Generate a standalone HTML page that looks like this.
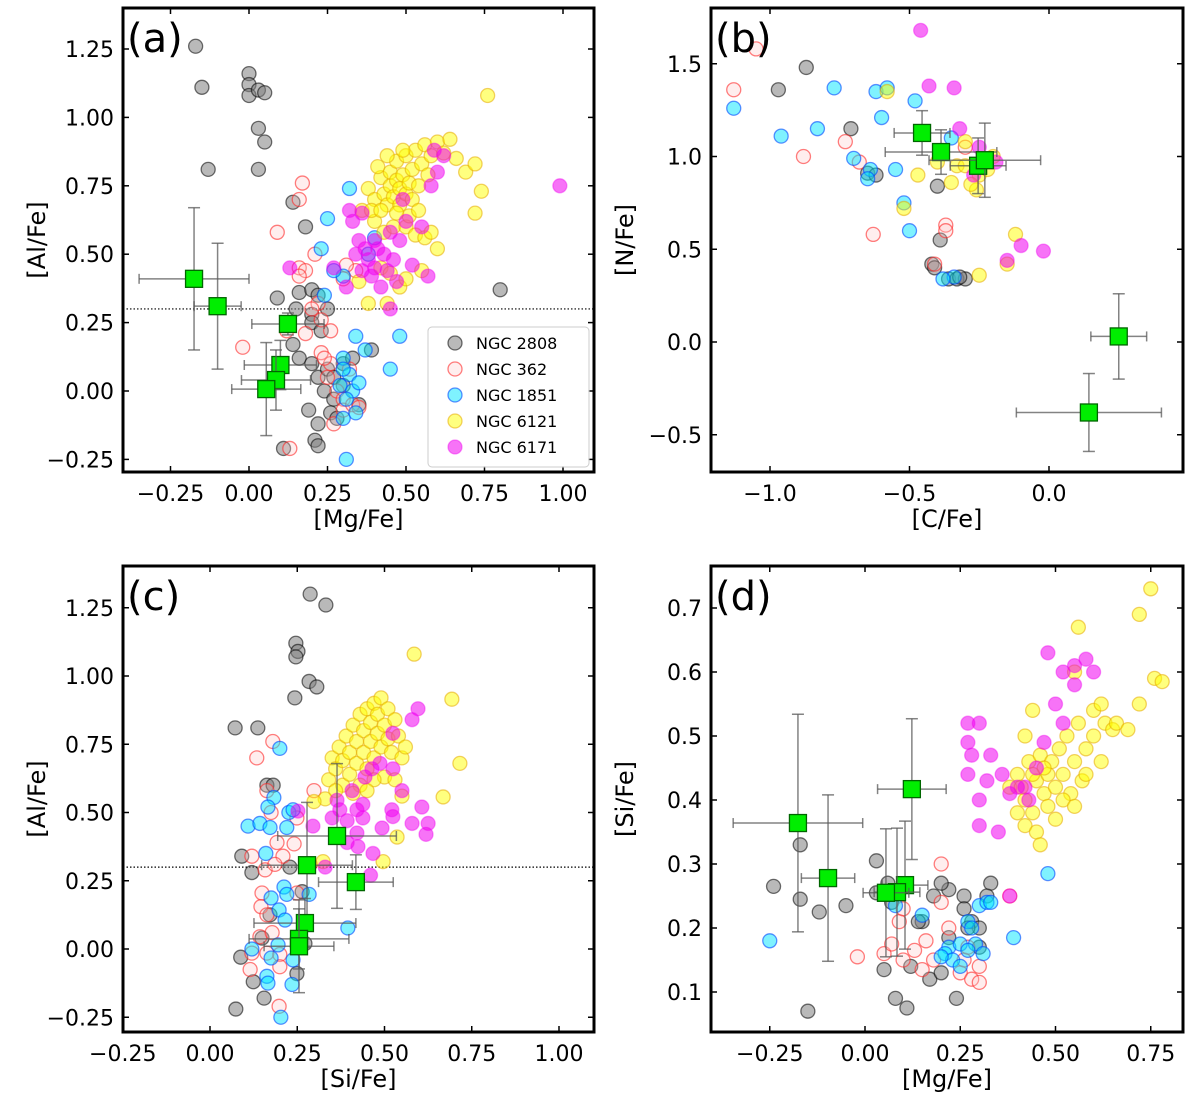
<!DOCTYPE html>
<html><head><meta charset="utf-8"><style>
body{margin:0;background:#fff;}
svg text{font-family:"DejaVu Sans","Liberation Sans",sans-serif;}
</style></head><body>
<svg id="fig" width="1200" height="1103" xmlns="http://www.w3.org/2000/svg"></svg>
<script>
// ---------- data ----------
const groups = ['NGC 2808','NGC 362','NGC 1851','NGC 6121','NGC 6171'];
// panel (a): [Mg/Fe, Al/Fe]
const aGray=[[-0.17,1.26],[-0.15,1.11],[-0.13,0.81],[0.0,1.16],[0.0,1.12],[0.0,1.08],[0.03,1.1],[0.05,1.09],[0.03,0.96],[0.05,0.91],[0.03,0.81],[0.14,0.69],[0.18,0.6],[0.09,0.34],[0.16,0.36],[0.2,0.37],[0.15,0.30],[0.2,0.28],[0.2,0.25],[0.22,0.35],[0.25,0.3],[0.23,0.22],[0.16,0.12],[0.14,0.17],[0.2,0.1],[0.22,0.05],[0.25,0.08],[0.27,0.05],[0.24,0.0],[0.27,-0.03],[0.3,0.02],[0.19,-0.07],[0.22,-0.12],[0.21,-0.18],[0.22,-0.2],[0.11,-0.21],[0.3,0.1],[0.33,0.12],[0.39,0.15],[0.8,0.37],[0.26,-0.08],[0.28,-0.1],[0.35,-0.05]];
const aRed=[[-0.02,0.16],[0.12,0.22],[0.17,0.76],[0.16,0.7],[0.09,0.58],[0.16,0.45],[0.18,0.44],[0.21,0.5],[0.16,0.42],[0.22,0.32],[0.18,0.21],[0.23,0.14],[0.26,0.1],[0.25,0.05],[0.28,0.0],[0.3,-0.03],[0.3,-0.07],[0.33,-0.05],[0.35,-0.06],[0.27,-0.12],[0.24,0.12],[0.26,0.22],[0.13,-0.21],[0.3,0.41],[0.34,0.44],[0.31,0.46],[0.2,0.3],[0.23,0.26],[0.32,0.08]];
const aCyan=[[0.32,0.74],[0.25,0.63],[0.23,0.52],[0.3,0.42],[0.27,0.44],[0.24,0.35],[0.34,0.2],[0.37,0.15],[0.3,0.12],[0.32,0.06],[0.29,0.02],[0.33,0.0],[0.31,-0.03],[0.34,-0.08],[0.3,-0.1],[0.31,-0.25],[0.45,0.08],[0.48,0.2],[0.3,0.08],[0.35,0.03],[0.4,0.56],[0.38,0.5]];
const aYellow=[[0.38,0.74],[0.4,0.7],[0.42,0.78],[0.43,0.72],[0.44,0.68],[0.45,0.75],[0.45,0.8],[0.46,0.71],[0.47,0.77],[0.47,0.84],[0.48,0.68],[0.48,0.74],[0.49,0.79],[0.5,0.72],[0.5,0.86],[0.51,0.76],[0.52,0.81],[0.52,0.7],[0.53,0.88],[0.54,0.75],[0.55,0.83],[0.56,0.9],[0.57,0.79],[0.58,0.86],[0.6,0.91],[0.62,0.87],[0.64,0.92],[0.66,0.85],[0.69,0.8],[0.72,0.83],[0.74,0.73],[0.76,1.08],[0.72,0.65],[0.4,0.62],[0.43,0.58],[0.46,0.6],[0.5,0.6],[0.53,0.57],[0.56,0.56],[0.58,0.58],[0.6,0.52],[0.38,0.32],[0.44,0.32],[0.35,0.4],[0.42,0.45],[0.45,0.43],[0.48,0.38],[0.5,0.41],[0.55,0.44],[0.36,0.66],[0.39,0.66],[0.41,0.82],[0.44,0.86],[0.49,0.88],[0.51,0.64],[0.54,0.66],[0.47,0.65],[0.42,0.66]];
const aMag=[[0.33,0.62],[0.34,0.5],[0.35,0.55],[0.36,0.44],[0.37,0.52],[0.38,0.48],[0.39,0.42],[0.4,0.55],[0.4,0.45],[0.41,0.52],[0.42,0.38],[0.43,0.5],[0.44,0.44],[0.45,0.58],[0.46,0.48],[0.47,0.4],[0.48,0.55],[0.5,0.62],[0.52,0.46],[0.55,0.6],[0.57,0.42],[0.58,0.75],[0.6,0.8],[0.59,0.88],[0.62,0.86],[0.99,0.75],[0.27,0.45],[0.31,0.38],[0.13,0.45],[0.36,0.65],[0.32,0.66],[0.49,0.7],[0.45,0.3]];
// green: x, y, xerr, yerr
const aGreen=[[-0.175,0.41,0.175,0.26],[-0.1,0.31,0.075,0.23],[0.124,0.245,0.115,0.04],[0.10,0.095,0.115,0.09],[0.086,0.04,0.11,0.11],[0.055,0.007,0.11,0.17]];
// panel (b): [C/Fe, N/Fe]
const bGray=[[-0.87,1.48],[-0.97,1.36],[-0.71,1.15],[-0.65,0.91],[-0.62,0.9],[-0.4,0.84],[-0.39,0.55],[-0.42,0.42],[-0.41,0.4],[-0.36,0.34],[-0.33,0.34],[-0.3,0.34],[-0.32,0.35]];
const bRed=[[-1.13,1.36],[-1.05,1.58],[-0.88,1.0],[-0.73,1.08],[-0.68,0.97],[-0.63,0.58],[-0.37,0.63],[-0.37,0.6],[-0.41,0.42],[-0.3,1.05]];
const bCyan=[[-1.13,1.26],[-0.96,1.11],[-0.83,1.15],[-0.77,1.37],[-0.7,0.99],[-0.62,1.35],[-0.6,1.21],[-0.58,1.37],[-0.64,0.93],[-0.65,0.88],[-0.55,0.93],[-0.52,0.75],[-0.5,0.6],[-0.48,1.3],[-0.34,0.35],[-0.38,0.34],[-0.35,1.1]];
const bYellow=[[-0.58,1.35],[-0.47,0.9],[-0.52,0.72],[-0.33,0.95],[-0.35,0.86],[-0.3,0.95],[-0.25,0.9],[-0.2,1.0],[-0.22,0.93],[-0.26,0.82],[-0.25,0.36],[-0.15,0.42],[-0.12,0.58],[-0.3,1.08],[-0.4,0.97],[-0.28,0.85]];
const bMag=[[-0.46,1.68],[-0.43,1.38],[-0.34,1.37],[-0.32,1.15],[-0.25,1.05],[-0.19,0.97],[-0.1,0.52],[-0.02,0.49],[-0.15,0.44],[-0.27,0.9]];
const bGreen=[[-0.455,1.127,0.1,0.12],[-0.387,1.024,0.2,0.12],[-0.254,0.95,0.1,0.15],[-0.23,0.98,0.2,0.2],[0.25,0.03,0.1,0.23],[0.143,-0.38,0.26,0.21]];
// panel (c): [Si/Fe, Al/Fe]
const cGray=[[0.287,1.30],[0.332,1.26],[0.246,1.12],[0.252,1.09],[0.246,1.07],[0.284,0.98],[0.306,0.96],[0.243,0.92],[0.072,0.81],[0.137,0.81],[0.163,0.60],[0.181,0.60],[0.091,0.34],[0.12,0.28],[0.229,0.30],[0.172,0.125],[0.149,0.04],[0.088,-0.03],[0.124,-0.12],[0.155,-0.18],[0.074,-0.22],[0.249,-0.09],[0.272,0.02],[0.264,0.21]];
const cRed=[[0.18,0.76],[0.134,0.70],[0.298,0.58],[0.163,0.58],[0.175,0.50],[0.249,0.48],[0.192,0.39],[0.241,0.385],[0.12,0.34],[0.209,0.34],[0.158,0.29],[0.186,0.31],[0.149,0.205],[0.146,0.155],[0.163,0.125],[0.143,0.045],[0.178,0.06],[0.12,-0.015],[0.163,-0.015],[0.2,-0.02],[0.115,-0.075],[0.2,-0.065],[0.198,-0.21],[0.249,0.205],[0.287,0.31]];
const cCyan=[[0.2,0.735],[0.183,0.555],[0.166,0.52],[0.226,0.50],[0.238,0.51],[0.109,0.45],[0.143,0.46],[0.172,0.445],[0.22,0.445],[0.16,0.35],[0.212,0.227],[0.175,0.187],[0.22,0.2],[0.284,0.2],[0.198,0.143],[0.215,0.106],[0.395,0.077],[0.195,0.015],[0.12,0.0],[0.175,-0.033],[0.238,-0.04],[0.163,-0.10],[0.166,-0.125],[0.235,-0.13],[0.203,-0.25]];
const cYellow=[[0.34,0.62],[0.35,0.70],[0.36,0.66],[0.37,0.74],[0.38,0.60],[0.38,0.69],[0.39,0.78],[0.40,0.64],[0.40,0.72],[0.41,0.82],[0.42,0.68],[0.42,0.76],[0.43,0.86],[0.43,0.60],[0.44,0.72],[0.44,0.80],[0.45,0.66],[0.45,0.88],[0.46,0.76],[0.46,0.83],[0.47,0.70],[0.47,0.90],[0.48,0.79],[0.48,0.86],[0.49,0.74],[0.49,0.92],[0.50,0.82],[0.51,0.77],[0.51,0.88],[0.52,0.72],[0.53,0.84],[0.54,0.78],[0.55,0.70],[0.56,0.74],[0.50,0.63],[0.47,0.62],[0.45,0.58],[0.41,0.57],[0.36,0.58],[0.33,0.55],[0.53,0.62],[0.585,1.08],[0.693,0.915],[0.668,0.557],[0.298,0.54],[0.324,0.32],[0.496,0.32],[0.536,0.41],[0.716,0.68],[0.55,0.56]];
const cMag=[[0.596,0.88],[0.579,0.84],[0.524,0.79],[0.524,0.66],[0.487,0.68],[0.444,0.63],[0.464,0.66],[0.55,0.58],[0.407,0.58],[0.364,0.545],[0.438,0.53],[0.521,0.51],[0.607,0.52],[0.35,0.48],[0.393,0.47],[0.438,0.48],[0.524,0.485],[0.295,0.45],[0.579,0.46],[0.625,0.46],[0.619,0.42],[0.493,0.443],[0.421,0.425],[0.424,0.375],[0.467,0.35],[0.393,0.39],[0.372,0.51],[0.421,0.51],[0.252,0.505],[0.33,0.30],[0.46,0.27]];
const cGreen=[[0.364,0.414,0.17,0.265],[0.278,0.307,0.13,0.23],[0.418,0.245,0.107,0.1],[0.272,0.095,0.146,0.09],[0.255,0.037,0.143,0.11],[0.255,0.01,0.1,0.17]];
// panel (d): [Mg/Fe, Si/Fe]
const dGray=[[-0.17,0.33],[-0.17,0.245],[-0.24,0.265],[-0.15,0.07],[-0.12,0.225],[-0.05,0.235],[0.03,0.305],[0.03,0.255],[0.07,0.24],[0.06,0.27],[0.05,0.135],[0.08,0.09],[0.11,0.075],[0.12,0.14],[0.17,0.12],[0.2,0.13],[0.15,0.21],[0.18,0.25],[0.22,0.26],[0.26,0.25],[0.26,0.23],[0.28,0.21],[0.3,0.2],[0.33,0.27],[0.32,0.25],[0.24,0.09],[0.27,0.2],[0.3,0.17],[0.22,0.185],[0.14,0.21],[0.2,0.27]];
const dRed=[[-0.02,0.155],[0.05,0.16],[0.07,0.175],[0.1,0.15],[0.13,0.165],[0.15,0.135],[0.2,0.3],[0.2,0.24],[0.18,0.15],[0.25,0.13],[0.26,0.15],[0.28,0.12],[0.3,0.115],[0.38,0.25],[0.27,0.17],[0.09,0.21],[0.22,0.2],[0.1,0.23],[0.16,0.18],[0.3,0.14]];
const dCyan=[[-0.25,0.18],[0.08,0.235],[0.15,0.22],[0.22,0.17],[0.21,0.16],[0.23,0.15],[0.25,0.14],[0.27,0.21],[0.28,0.2],[0.3,0.235],[0.32,0.24],[0.33,0.24],[0.29,0.175],[0.31,0.16],[0.25,0.175],[0.27,0.165],[0.39,0.185],[0.48,0.285],[0.2,0.155]];
const dYellow=[[0.38,0.42],[0.4,0.44],[0.42,0.4],[0.43,0.46],[0.44,0.38],[0.45,0.43],[0.46,0.47],[0.47,0.41],[0.48,0.44],[0.48,0.39],[0.49,0.46],[0.5,0.42],[0.51,0.48],[0.5,0.37],[0.52,0.44],[0.53,0.5],[0.54,0.41],[0.55,0.46],[0.56,0.52],[0.57,0.43],[0.58,0.48],[0.6,0.5],[0.62,0.46],[0.63,0.52],[0.65,0.51],[0.66,0.52],[0.4,0.38],[0.42,0.36],[0.45,0.35],[0.47,0.45],[0.44,0.44],[0.41,0.42],[0.52,0.4],[0.55,0.39],[0.58,0.44],[0.6,0.54],[0.46,0.33],[0.75,0.73],[0.72,0.69],[0.72,0.55],[0.76,0.59],[0.78,0.585],[0.56,0.67],[0.69,0.51],[0.55,0.6],[0.44,0.54],[0.42,0.5],[0.62,0.55]];
const dMag=[[0.27,0.52],[0.3,0.52],[0.27,0.49],[0.28,0.47],[0.27,0.44],[0.32,0.43],[0.3,0.4],[0.38,0.41],[0.42,0.42],[0.45,0.45],[0.48,0.63],[0.52,0.6],[0.55,0.58],[0.55,0.61],[0.58,0.62],[0.6,0.6],[0.5,0.55],[0.52,0.52],[0.35,0.35],[0.38,0.25],[0.4,0.42],[0.36,0.44],[0.33,0.47],[0.43,0.4],[0.47,0.49],[0.3,0.36]];
const dGreen=[[-0.176,0.364,0.17,0.17],[-0.097,0.278,0.07,0.13],[0.123,0.417,0.09,0.11],[0.105,0.267,0.06,0.1],[0.084,0.256,0.06,0.1],[0.055,0.255,0.06,0.1]];
// ticks
const aXTicks=[-0.25,0,0.25,0.5,0.75,1.0], aXLabels=['\u22120.25','0.00','0.25','0.50','0.75','1.00'];
const aYTicks=[-0.25,0,0.25,0.5,0.75,1.0,1.25], aYLabels=['\u22120.25','0.00','0.25','0.50','0.75','1.00','1.25'];
const bXTicks=[-1,-0.5,0], bXLabels=['\u22121.0','\u22120.5','0.0'];
const bYTicks=[-0.5,0,0.5,1.0,1.5], bYLabels=['\u22120.5','0.0','0.5','1.0','1.5'];
const dXTicks=[-0.25,0,0.25,0.5,0.75], dXLabels=['\u22120.25','0.00','0.25','0.50','0.75'];
const dYTicks=[0.1,0.2,0.3,0.4,0.5,0.6,0.7], dYLabels=['0.1','0.2','0.3','0.4','0.5','0.6','0.7'];

// ---------- drawing ----------
const NS='http://www.w3.org/2000/svg';
const fig=document.getElementById('fig');
function mk(tag,attrs,parent){const e=document.createElementNS(NS,tag);for(const k in attrs)e.setAttribute(k,attrs[k]);(parent||fig).appendChild(e);return e;}
const styles=[
 {fill:'rgba(128,128,128,0.55)',stroke:'rgba(0,0,0,0.55)'},
 {fill:'rgba(255,200,200,0.3)',stroke:'rgba(255,40,40,0.6)'},
 {fill:'rgba(0,230,255,0.5)',stroke:'rgba(0,70,255,0.6)'},
 {fill:'rgba(255,255,0,0.5)',stroke:'rgba(230,170,0,0.55)'},
 {fill:'rgba(240,0,240,0.55)',stroke:'rgba(240,0,240,0.4)'}];
const gNames=['ngc2808','ngc362','ngc1851','ngc6121','ngc6171'];

function panel(p){
  const g=mk('g',{});
  
  
  const sx=v=>p.x0+v*p.kx, sy=v=>p.y0-v*p.ky;
  const clip=mk('clipPath',{id:'clip-'+p.id},g);
  mk('rect',{x:p.L,y:p.T,width:p.R-p.L,height:p.B-p.T},clip);
  const inner=mk('g',{'clip-path':'url(#clip-'+p.id+')'},g);
  
  
  if(p.hline!==undefined){
    const l=mk('line',{x1:p.L,x2:p.R,y1:sy(p.hline),y2:sy(p.hline),stroke:'#000','stroke-width':1.2,'stroke-dasharray':'1.5,2'},inner);
    
    
  }
  p.series.forEach((arr,gi)=>{
    const sg=mk('g',{},inner);
    
    
    arr.forEach(d=>{
      const c=mk('circle',{cx:sx(d[0]),cy:sy(d[1]),r:7,fill:styles[gi].fill,stroke:styles[gi].stroke,'stroke-width':1.3},sg);
      
      
    });
  });
  const gg=mk('g',{},inner);
  
  
  p.green.forEach(d=>{
    const x=sx(d[0]),y=sy(d[1]),x1=sx(d[0]-d[2]),x2=sx(d[0]+d[2]),y1=sy(d[1]+d[3]),y2=sy(d[1]-d[3]);
    const st={stroke:'rgba(90,90,90,0.75)','stroke-width':1.5};
    mk('line',Object.assign({x1:x1,x2:x2,y1:y,y2:y},st),gg);
    mk('line',Object.assign({x1:x,x2:x,y1:y1,y2:y2},st),gg);
    mk('line',Object.assign({x1:x1,x2:x1,y1:y-5,y2:y+5},st),gg);
    mk('line',Object.assign({x1:x2,x2:x2,y1:y-5,y2:y+5},st),gg);
    mk('line',Object.assign({x1:x-6,x2:x+6,y1:y1,y2:y1},st),gg);
    mk('line',Object.assign({x1:x-6,x2:x+6,y1:y2,y2:y2},st),gg);
    const s=mk('rect',{x:x-8.5,y:y-8.5,width:17,height:17,fill:'#00ee00',stroke:'#006600','stroke-width':1.3},gg);
    
    
  });
  p.xt.forEach((v,i)=>{
    const x=sx(v);
    mk('line',{x1:x,x2:x,y1:p.B,y2:p.B-6,stroke:'#000','stroke-width':1.5},g);
    mk('line',{x1:x,x2:x,y1:p.T,y2:p.T+6,stroke:'#000','stroke-width':1.5},g);
    const t=mk('text',{x:x,y:p.B+29,'font-size':22,'text-anchor':'middle'},g);
    t.textContent=p.xl[i];
    
    
  });
  p.yt.forEach((v,i)=>{
    const y=sy(v);
    mk('line',{x1:p.L,x2:p.L+6,y1:y,y2:y,stroke:'#000','stroke-width':1.5},g);
    mk('line',{x1:p.R,x2:p.R-6,y1:y,y2:y,stroke:'#000','stroke-width':1.5},g);
    const t=mk('text',{x:p.L-9,y:y+8,'font-size':22,'text-anchor':'end'},g);
    t.textContent=p.yl[i];
    
    
  });
  const fr=mk('rect',{x:p.L,y:p.T,width:p.R-p.L,height:p.B-p.T,fill:'none',stroke:'#000','stroke-width':3},g);
  
  
  const xt=mk('text',{x:(p.L+p.R)/2,y:p.B+55,'font-size':24,'text-anchor':'middle'},g);
  xt.textContent=p.xTitle;
  
  
  const cx=p.L-78, cy=(p.T+p.B)/2;
  const yt=mk('text',{x:cx,y:cy,'font-size':24,'text-anchor':'middle',transform:'rotate(-90 '+cx+' '+cy+')'},g);
  yt.textContent=p.yTitle;
  
  
  const pl=mk('text',{x:p.L+4,y:p.T+44,'font-size':40},g);
  pl.textContent='('+p.id+')';
  
  
  return g;
}

panel({id:'a',L:123,R:594,T:8,B:472,x0:249,kx:314,y0:391,ky:273.6,xt:aXTicks,xl:aXLabels,yt:aYTicks,yl:aYLabels,
  series:[aGray,aRed,aCyan,aYellow,aMag],green:aGreen,hline:0.30,xTitle:'[Mg/Fe]',yTitle:'[Al/Fe]'});
panel({id:'b',L:711,R:1183,T:8,B:472,x0:1049,kx:279,y0:342,ky:185.5,xt:bXTicks,xl:bXLabels,yt:bYTicks,yl:bYLabels,
  series:[bGray,bRed,bCyan,bYellow,bMag],green:bGreen,xTitle:'[C/Fe]',yTitle:'[N/Fe]'});
panel({id:'c',L:123,R:594,T:566,B:1032,x0:210,kx:349,y0:949,ky:273,xt:aXTicks,xl:aXLabels,yt:aYTicks,yl:aYLabels,
  series:[cGray,cRed,cCyan,cYellow,cMag],green:cGreen,hline:0.30,xTitle:'[Si/Fe]',yTitle:'[Al/Fe]'});
panel({id:'d',L:711,R:1183,T:566,B:1032,x0:865,kx:381,y0:1056,ky:640,xt:dXTicks,xl:dXLabels,yt:dYTicks,yl:dYLabels,
  series:[dGray,dRed,dCyan,dYellow,dMag],green:dGreen,xTitle:'[Mg/Fe]',yTitle:'[Si/Fe]'});

// legend
const lg=mk('g',{});


mk('rect',{x:428,y:327,width:161,height:140,rx:4,fill:'rgba(255,255,255,0.85)',stroke:'#ccc','stroke-width':1},lg);
groups.forEach((n,i)=>{
  const y=343+i*26;
  const c=mk('circle',{cx:455,cy:y,r:7,fill:styles[i].fill,stroke:styles[i].stroke,'stroke-width':1.3},lg);
  
  
  const t=mk('text',{x:476,y:y+6,'font-size':16},lg);
  t.textContent=n;
  
  
});
</script>
</body></html>
